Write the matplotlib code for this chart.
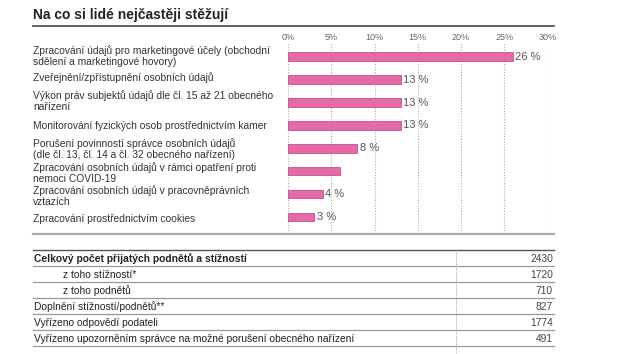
import matplotlib
matplotlib.use('Agg')
import matplotlib.pyplot as plt

W, H = 630, 354

# bar chart data
categories = [
    "Zpracování údajů pro marketingové účely (obchodní\nsdělení a marketingové hovory)",
    "Zveřejnění/zpřístupnění osobních údajů",
    "Výkon práv subjektů údajů dle čl. 15 až 21 obecného\nnařízení",
    "Monitorování fyzických osob prostřednictvím kamer",
    "Porušení povinností správce osobních údajů\n(dle čl. 13, čl. 14 a čl. 32 obecného nařízení)",
    "Zpracování osobních údajů v rámci opatření proti\nnemoci COVID-19",
    "Zpracování osobních údajů v pracovněprávních\nvztazích",
    "Zpracování prostřednictvím cookies",
]
values = [26, 13, 13, 13, 8, 6, 4, 3]
value_labels = ["26 %", "13 %", "13 %", "13 %", "8 %", "", "4 %", "3 %"]
ticks = [0, 5, 10, 15, 20, 25, 30]

# table data
table_rows = [
    "Celkový počet přijatých podnětů a stížností",
    "z toho stížností*",
    "z toho podnětů",
    "Doplnění stížností/podnětů**",
    "Vyřízeno odpovědí podateli",
    "Vyřízeno upozorněním správce na možné porušení obecného nařízení",
]
table_values = [2430, 1720, 710, 827, 1774, 491]
table_indent = [False, True, True, False, False, False]

plt.rcParams['font.family'] = ['Liberation Sans', 'DejaVu Sans']
TXT = '#333333'
PINK = '#e46aa8'
PINK_EDGE = '#c8508c'

fig = plt.figure(figsize=(W / 100, H / 100), dpi=100)


def fx(x):
    return x / W


def fy(y):
    return 1 - y / H


# title + rules
fig.text(fx(33), fy(15), "Na co si lidé nejčastěji stěžují", fontsize=10,
         fontweight='bold', color='#222222', va='center', ha='left')
fig.add_artist(plt.Line2D([fx(33), fx(554)], [fy(25.5), fy(25.5)],
                          color='#555555', lw=1.3))
fig.add_artist(plt.Line2D([fx(33), fx(554)], [fy(234), fy(234)],
                          color='#aaaaaa', lw=1.6))

# bar chart axes
x0, x1 = 288.3, 547.3
y_top, y_bot = 44, 231
ax = fig.add_axes([fx(x0), fy(y_bot), fx(x1) - fx(x0), (y_bot - y_top) / H])
n = len(values)
pos = list(range(n))
ax.barh(pos, values, height=0.36, color=PINK, edgecolor=PINK_EDGE, lw=0.6, zorder=3)
ax.set_xlim(0, 30)
ax.set_ylim(n - 0.4, -0.55)
for t in ticks:
    ax.axvline(t, color='#aaaaaa', lw=0.8, ls=(0, (1, 1.5)), zorder=1)
for i, (v, lab) in enumerate(zip(values, value_labels)):
    if lab:
        ax.text(v + 0.3, i, lab, va='center', ha='left', fontsize=8, color='#555555')
for spine in ax.spines.values():
    spine.set_visible(False)
ax.set_yticks([])
ax.xaxis.tick_top()
ax.set_xticks(ticks)
ax.set_xticklabels([f"{t}%" for t in ticks], fontsize=6.5, color='#666666')
ax.tick_params(axis='x', length=0, pad=1.5)
ax.patch.set_alpha(0)

# category labels
row_px = [56, 78, 101, 126, 149, 173, 196, 219]
for lab, yy in zip(categories, row_px):
    fig.text(fx(33), fy(yy), lab, fontsize=7.4, color=TXT, va='center',
             ha='left', linespacing=1.12)

# table
line_y = [250, 266, 282, 298, 314, 330, 346]
for k, yy in enumerate(line_y):
    fig.add_artist(plt.Line2D([fx(33), fx(554)], [fy(yy), fy(yy)],
                              color='#555555' if k == 0 else '#999999',
                              lw=1.0 if k == 0 else 0.9))
fig.add_artist(plt.Line2D([fx(456), fx(456)], [fy(250), fy(354)],
                          color='#aaaaaa', lw=0.7, ls=(0, (1, 1))))
for k, (lab, val, ind) in enumerate(zip(table_rows, table_values, table_indent)):
    yy = line_y[k] + 8.5
    fig.text(fx(63 if ind else 34), fy(yy), lab, fontsize=7.4, color='#222222',
             va='center', ha='left',
             fontweight='bold' if k == 0 else 'normal')
    fig.text(fx(553), fy(yy), str(val), fontsize=7.4, color='#444444',
             va='center', ha='right')

fig.savefig('out.png', dpi=100)
